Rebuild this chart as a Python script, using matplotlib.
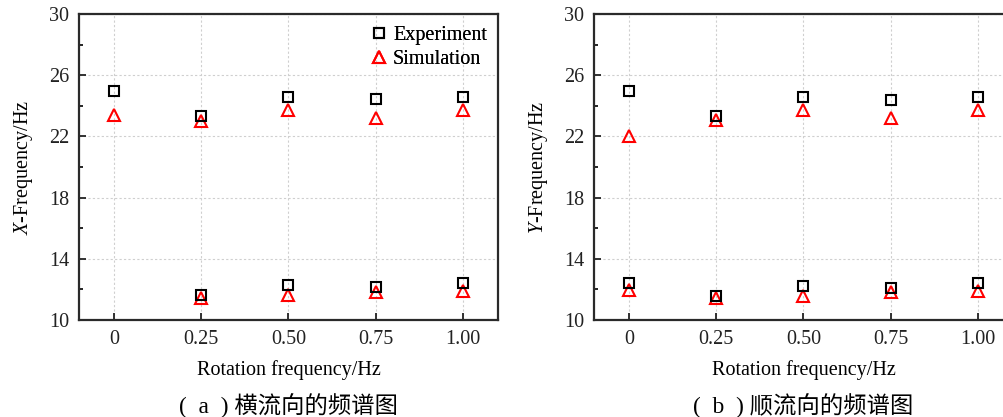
import matplotlib
matplotlib.use("Agg")
import matplotlib.pyplot as plt
from matplotlib.ticker import FixedLocator

plt.rcParams["font.family"] = ["Liberation Serif", "Noto Sans CJK SC"]
plt.rcParams["mathtext.fontset"] = "custom"
plt.rcParams["mathtext.rm"] = "Liberation Serif"
plt.rcParams["mathtext.it"] = "Liberation Serif:italic"

# Rotation frequencies (Hz) and tick labels
rot_freq = [0, 0.25, 0.50, 0.75, 1.00]
x_tick_labels = ["0", "0.25", "0.50", "0.75", "1.00"]
y_major = [10, 14, 18, 22, 26, 30]
y_minor = [12, 16, 20, 24, 28]

# (a) cross-flow direction: dominant and secondary frequency branches
x_exp_high = [25.0, 23.35, 24.55, 24.42, 24.55]
x_sim_high = [23.42, 23.02, 23.74, 23.18, 23.72]
x_rot_low = [0.25, 0.50, 0.75, 1.00]
x_exp_low = [11.65, 12.28, 12.15, 12.41]
x_sim_low = [11.43, 11.63, 11.85, 11.89]

# (b) in-line direction
y_exp_high = [24.94, 23.32, 24.55, 24.41, 24.55]
y_sim_high = [22.05, 23.06, 23.73, 23.19, 23.71]
y_exp_low = [12.39, 11.60, 12.23, 12.12, 12.39]
y_sim_low = [11.97, 11.42, 11.60, 11.82, 11.91]

W, H = 1004, 417
fig = plt.figure(figsize=(W / 100, H / 100), dpi=100)

FS = 14.5
sq = dict(marker="s", ms=6.8, mfc="none", mec="black", mew=1.5, ls="none")
tri = dict(marker="^", ms=8.0, mfc="none", mec="#ff0000", mew=1.5, ls="none")


def panel(left_px, ylabel, caption, exp_sets, sim_sets):
    top_px, bot_px, width_px = 14, 320, 419
    ax = fig.add_axes([left_px / W, (H - bot_px) / H, width_px / W, (bot_px - top_px) / H])
    for xs, ys in sim_sets:
        ax.plot(xs, ys, **tri, zorder=3)
    for xs, ys in exp_sets:
        ax.plot(xs, ys, **sq, zorder=4)
    ax.set_xlim(-0.1, 1.1)
    ax.set_ylim(10, 30)
    ax.xaxis.set_major_locator(FixedLocator(rot_freq))
    ax.set_xticklabels(x_tick_labels)
    ax.yaxis.set_major_locator(FixedLocator(y_major))
    ax.yaxis.set_minor_locator(FixedLocator(y_minor))
    ax.tick_params(axis="both", which="major", direction="in", length=5, width=1.3,
                   labelsize=FS, pad=7, colors="#222222")
    ax.tick_params(axis="y", which="minor", direction="in", length=3, width=1.2)
    ax.tick_params(axis="x", which="minor", bottom=False)
    ax.grid(True, which="major", ls=(0, (2, 2)), lw=0.8, color="#cfcfcf")
    ax.set_axisbelow(True)
    for s in ax.spines.values():
        s.set_linewidth(1.6)
        s.set_color("#2a2a2a")
    ax.set_xlabel("Rotation frequency/Hz", fontsize=FS, labelpad=8)
    ax.set_ylabel(ylabel, fontsize=FS, labelpad=10)
    h1, = ax.plot([], [], **sq)
    h2, = ax.plot([], [], **tri)
    ax.legend([h1, h2], ["Experiment", "Simulation"], loc="upper right",
              frameon=False, fontsize=FS, handlelength=0.6, handletextpad=0.4,
              borderaxespad=0.2, labelspacing=0.25,
              bbox_to_anchor=((499 - left_px) / width_px, 1.0))
    cx = (left_px + width_px / 2) / W
    fig.text(cx, (H - 406) / H, caption, ha="center", va="center", fontsize=16.8)
    return ax


panel(79, r"$\mathit{X}$-Frequency/Hz", "(  a  ) 横流向的频谱图",
      [(rot_freq, x_exp_high), (x_rot_low, x_exp_low)],
      [(rot_freq, x_sim_high), (x_rot_low, x_sim_low)])
panel(594, r"$\mathit{Y}$-Frequency/Hz", "(  b  ) 顺流向的频谱图",
      [(rot_freq, y_exp_high), (rot_freq, y_exp_low)],
      [(rot_freq, y_sim_high), (rot_freq, y_sim_low)])

fig.savefig("out.png", dpi=100)
